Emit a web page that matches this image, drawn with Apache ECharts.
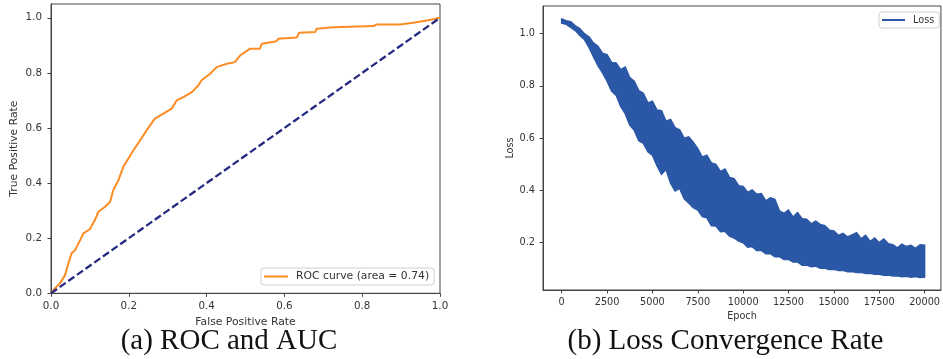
<!DOCTYPE html>
<html>
<head>
<meta charset="utf-8">
<script src="https://cdn.jsdelivr.net/npm/echarts@6/dist/echarts.min.js"></script>
<style>
html,body{margin:0;padding:0;background:#fff;}
#chart{width:943px;height:359px;}
</style>
</head>
<body>
<div id="chart"></div>
<script>
// ---------- Data: (a) ROC ----------
const rocFpr = [0,0.01,0.023,0.036,0.045,0.053,0.062,0.075,0.083,0.1,0.113,0.122,0.139,0.152,0.16,0.173,0.186,0.199,0.212,0.229,0.246,0.267,0.289,0.31,0.323,0.34,0.362,0.379,0.387,0.409,0.426,0.452,0.473,0.486,0.512,0.537,0.542,0.58,0.584,0.632,0.638,0.679,0.683,0.726,0.829,0.837,0.897,0.901,0.931,0.966,1.0];
const rocTpr = [0,0.018,0.036,0.066,0.11,0.145,0.157,0.193,0.217,0.233,0.266,0.296,0.314,0.332,0.374,0.41,0.459,0.489,0.519,0.555,0.592,0.634,0.652,0.67,0.7,0.712,0.73,0.755,0.773,0.797,0.821,0.833,0.839,0.863,0.888,0.888,0.906,0.915,0.924,0.928,0.946,0.948,0.96,0.966,0.97,0.976,0.976,0.982,0.982,0.99,1.0];
const diagX = [0, 1];
const diagY = [0, 1];
const rocTicks = [0, 0.2, 0.4, 0.6, 0.8, 1.0];
const rocName = 'ROC curve (area = 0.74)';

// ---------- Data: (b) Loss ----------
const lossEpochs = [0,250,500,750,1000,1250,1500,1750,2000,2250,2500,2750,3000,3250,3500,3750,4000,4250,4500,4750,5000,5250,5500,5750,6000,6250,6500,6750,7000,7250,7500,7750,8000,8250,8500,8750,9000,9250,9500,9750,10000,10250,10500,10750,11000,11250,11500,11750,12000,12250,12500,12750,13000,13250,13500,13750,14000,14250,14500,14750,15000,15250,15500,15750,16000,16250,16500,16750,17000,17250,17500,17750,18000,18250,18500,18750,19000,19250,19500,19750,20000];
const lossUpper = [1.056,1.050,1.046,1.030,1.020,1.000,0.988,0.965,0.952,0.925,0.920,0.890,0.888,0.862,0.872,0.832,0.818,0.782,0.772,0.735,0.742,0.708,0.705,0.665,0.672,0.640,0.632,0.600,0.605,0.585,0.560,0.528,0.535,0.505,0.500,0.472,0.482,0.450,0.445,0.418,0.415,0.392,0.402,0.385,0.388,0.360,0.372,0.366,0.322,0.312,0.325,0.298,0.315,0.292,0.290,0.272,0.282,0.270,0.265,0.248,0.245,0.228,0.236,0.222,0.230,0.238,0.215,0.228,0.205,0.218,0.200,0.214,0.196,0.192,0.180,0.194,0.185,0.190,0.178,0.192,0.190];
const lossLower = [1.040,1.036,1.024,1.012,0.993,0.978,0.948,0.912,0.878,0.850,0.818,0.780,0.764,0.722,0.694,0.650,0.630,0.590,0.580,0.548,0.535,0.495,0.462,0.480,0.428,0.398,0.408,0.368,0.352,0.334,0.325,0.300,0.295,0.265,0.264,0.242,0.244,0.225,0.218,0.206,0.200,0.183,0.185,0.170,0.170,0.158,0.158,0.146,0.147,0.136,0.136,0.126,0.126,0.114,0.114,0.108,0.110,0.102,0.102,0.097,0.098,0.093,0.094,0.089,0.090,0.086,0.087,0.082,0.083,0.079,0.079,0.075,0.076,0.072,0.073,0.070,0.071,0.068,0.070,0.067,0.068];
const lossXTicks = [0,2500,5000,7500,10000,12500,15000,17500,20000];
const lossYTicks = [0.2,0.4,0.6,0.8,1.0];

const captionA = '(a) ROC and AUC';
const captionB = '(b) Loss Convergence Rate';

// ---------- Styles ----------
const SANS = 'DejaVu Sans';
const AX = '#444';
const TXT = '#333';
const ORANGE = '#fd8c24';
const NAVY = '#262a82';
const BLUE = '#2b58a6';

const chart = echarts.init(document.getElementById('chart'), null, {renderer: 'canvas'});

function axisCommon(fs, ticks, fmt, margin) {
  return {
    axisLine: {show: true, onZero: false, lineStyle: {color: AX, width: 1}},
    axisTick: {show: true, length: 3.5, lineStyle: {color: AX, width: 1}, customValues: ticks},
    axisLabel: {color: TXT, fontFamily: SANS, fontSize: fs, margin: margin, customValues: ticks, formatter: fmt},
    splitLine: {show: false}
  };
}

const option = {
  animation: false,
  backgroundColor: '#fff',
  grid: [
    {left: 51, top: 4, width: 389, height: 289.3, show: true, borderColor: AX, borderWidth: 1, backgroundColor: 'transparent', containLabel: false},
    {left: 543, top: 6, width: 399, height: 284, show: true, borderColor: AX, borderWidth: 1, backgroundColor: 'transparent', containLabel: false}
  ],
  xAxis: [
    Object.assign({type: 'value', gridIndex: 0, min: 0, max: 1,
      name: 'False Positive Rate', nameLocation: 'middle', nameGap: 21,
      nameTextStyle: {color: TXT, fontFamily: SANS, fontSize: 10.8}},
      axisCommon(10.3, rocTicks, v => v.toFixed(1), 8)),
    Object.assign({type: 'value', gridIndex: 1, min: -1030, max: 20900,
      name: 'Epoch', nameLocation: 'middle', nameGap: 19,
      nameTextStyle: {color: TXT, fontFamily: SANS, fontSize: 9.7}},
      axisCommon(9.7, lossXTicks, v => String(v), 7))
  ],
  yAxis: [
    Object.assign({type: 'value', gridIndex: 0, min: 0, max: 1.05,
      name: 'True Positive Rate', nameLocation: 'middle', nameGap: 31,
      nameTextStyle: {color: TXT, fontFamily: SANS, fontSize: 10.8}},
      axisCommon(10.3, rocTicks, v => v.toFixed(1), 9)),
    Object.assign({type: 'value', gridIndex: 1, min: 0.0188, max: 1.106,
      name: 'Loss', nameLocation: 'middle', nameGap: 28,
      nameTextStyle: {color: TXT, fontFamily: SANS, fontSize: 9.7}},
      axisCommon(9.7, lossYTicks, v => v.toFixed(1), 8))
  ],
  legend: [
    {
      data: [{name: rocName, icon: 'rect'}],
      left: 261, top: 268, orient: 'horizontal',
      padding: [3, 5, 3, 3], itemWidth: 24, itemHeight: 2, itemGap: 0,
      borderColor: '#cfcfcf', borderWidth: 1, borderRadius: 3, backgroundColor: '#fff',
      selectedMode: false,
      textStyle: {color: TXT, fontFamily: SANS, fontSize: 10.8, padding: [0, 0, 0, 3]}
    },
    {
      data: [{name: 'Loss', icon: 'rect'}],
      left: 879, top: 12, orient: 'horizontal',
      padding: [3, 5, 3, 3], itemWidth: 23, itemHeight: 2, itemGap: 0,
      borderColor: '#cfcfcf', borderWidth: 1, borderRadius: 3, backgroundColor: '#fff',
      selectedMode: false,
      textStyle: {color: TXT, fontFamily: SANS, fontSize: 9.7, padding: [0, 0, 0, 3]}
    }
  ],
  series: [
    {
      name: rocName, type: 'line', xAxisIndex: 0, yAxisIndex: 0,
      data: rocFpr.map((x, i) => [x, rocTpr[i]]),
      showSymbol: false, symbol: 'none',
      lineStyle: {color: ORANGE, width: 2}, itemStyle: {color: ORANGE},
      z: 2
    },
    {
      name: 'Chance', type: 'line', xAxisIndex: 0, yAxisIndex: 0,
      data: diagX.map((x, i) => [x, diagY[i]]),
      showSymbol: false, symbol: 'none',
      lineStyle: {color: NAVY, width: 2.3, type: [7.4, 3.2]}, itemStyle: {color: NAVY},
      z: 3
    },
    {
      name: 'Loss', type: 'custom', xAxisIndex: 1, yAxisIndex: 1,
      itemStyle: {color: BLUE},
      data: [[lossEpochs[0], lossUpper[0]]],
      clip: true,
      renderItem: function (params, api) {
        const pts = [];
        for (let i = 0; i < lossEpochs.length; i++) pts.push(api.coord([lossEpochs[i], lossUpper[i]]));
        for (let i = lossEpochs.length - 1; i >= 0; i--) pts.push(api.coord([lossEpochs[i], lossLower[i]]));
        return {
          type: 'polygon',
          shape: {points: pts},
          style: {fill: BLUE, stroke: BLUE, lineWidth: 1.5, lineJoin: 'miter'}
        };
      }
    }
  ],
  graphic: [
    {type: 'text', x: 229, y: 341, style: {text: captionA, fill: '#111', font: '29px "Liberation Serif"', textAlign: 'center', textVerticalAlign: 'middle'}},
    {type: 'text', x: 725.5, y: 341, style: {text: captionB, fill: '#111', font: '29px "Liberation Serif"', textAlign: 'center', textVerticalAlign: 'middle'}}
  ]
};

chart.setOption(option);
</script>
</body>
</html>
